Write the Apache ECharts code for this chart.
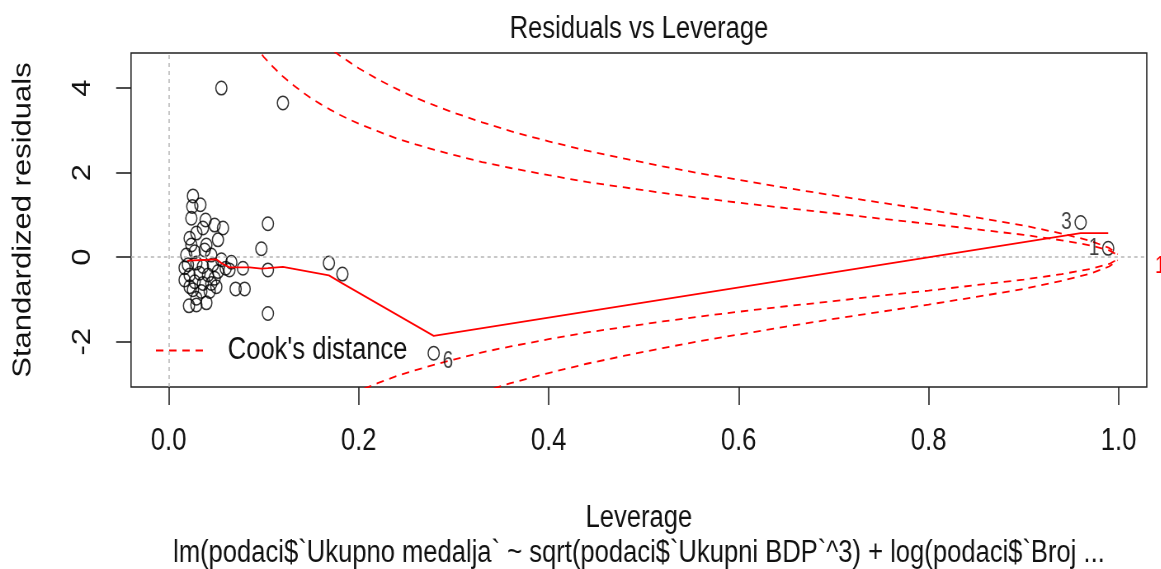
<!DOCTYPE html>
<html><head><meta charset="utf-8">
<script src="https://cdn.jsdelivr.net/npm/echarts@6/dist/echarts.min.js"></script>
<style>
html,body{margin:0;padding:0;overflow:hidden;background:#fff;width:1161px;height:569px}
#wrap{width:1161px;height:569px;overflow:hidden;position:relative}
#main{width:1407px;height:569px;transform:scaleX(0.825);transform-origin:0 0;position:absolute;left:0;top:0}
</style></head><body>
<div id="wrap"><div id="main"></div></div>
<script>
// ---- data ----
const titleText = 'Residuals vs Leverage';
const subCaption = 'lm(podaci$`Ukupno medalja` ~ sqrt(podaci$`Ukupni BDP`^3) + log(podaci$`Broj ...';
const xName = 'Leverage';
const yName = 'Standardized residuals';
const xTicks = [0, 0.2, 0.4, 0.6, 0.8, 1.0];
const yTicks = [-2, 0, 2, 4];
const cookLevelTicks = [-0.225];
const cookLevelLabels = ['1'];

const pointH = [0.0555, 0.1203, 0.960, 0.989, 0.279, 0.1687, 0.1829, 0.1045, 0.0976, 0.1045, 0.1045, 0.0705, 0.080, 0.0782, 0.066,
  0.0256, 0.0334, 0.0249, 0.0239, 0.0389, 0.0484, 0.0572, 0.0361, 0.0292, 0.0221, 0.0397, 0.0519, 0.0239,
  0.0186, 0.0274, 0.0379, 0.0449, 0.0555, 0.0203, 0.0292, 0.0361, 0.0466, 0.0519, 0.0221, 0.0326, 0.0414, 0.0484, 0.0168,
  0.0274, 0.0361, 0.0449, 0.0256, 0.0344, 0.0432, 0.0502, 0.0221, 0.0292, 0.0397, 0.0214, 0.0292, 0.0168, 0.060, 0.064];
const pointR = [4.00, 3.65, 0.82, 0.21, -2.27, -0.14, -0.40, 0.79, 0.20, -0.30, -1.33, -0.75, -0.75, -0.26, -0.12,
  1.45, 1.24, 1.20, 0.92, 0.88, 0.76, 0.69, 0.69, 0.57, 0.45, 0.29, 0.41, 0.29,
  0.05, 0.13, 0.17, 0.05, -0.06, -0.18, -0.14, -0.22, -0.18, -0.34, -0.42, -0.38, -0.42, -0.50, -0.54,
  -0.58, -0.62, -0.62, -0.77, -0.81, -0.81, -0.70, -0.70, -0.97, -1.08, -1.15, -1.13, -0.25, -0.26, -0.30];
const idIndex = [3, 2, 4];
const idText = ['1', '3', '6'];

const smoothH = [0.0197, 0.0414, 0.0502, 0.0555, 0.0642, 0.0853, 0.0976, 0.1045, 0.1203, 0.1687, 0.1829, 0.279, 0.960, 0.989];
const smoothR = [-0.08, -0.06, -0.05, -0.14, -0.24, -0.24, -0.27, -0.26, -0.23, -0.43, -0.62, -1.86, 0.57, 0.57];

const cookH = [0.08,0.09,0.1,0.11,0.12,0.13,0.14,0.15,0.16,0.17,0.18,0.19,0.2,0.22,0.24,0.26,0.28,0.3,0.33,0.36,0.4,0.44,0.48,0.52,0.56,0.6,0.65,0.7,0.75,0.8,0.85,0.9,0.94,0.97,0.99,0.999];
const cookUp05 = [5.36,5.03,4.74,4.50,4.28,4.09,3.92,3.76,3.62,3.49,3.37,3.26,3.16,2.98,2.81,2.67,2.54,2.42,2.25,2.11,1.94,1.78,1.65,1.52,1.40,1.29,1.16,1.04,0.91,0.79,0.66,0.53,0.40,0.28,0.16,0.05];
const cookUp1 = [7.58,7.11,6.71,6.36,6.06,5.78,5.54,5.32,5.12,4.94,4.77,4.62,4.47,4.21,3.98,3.77,3.59,3.42,3.19,2.98,2.74,2.52,2.33,2.15,1.98,1.83,1.64,1.46,1.29,1.12,0.94,0.75,0.56,0.39,0.22,0.07];
const cookLow05 = [-5.36,-5.03,-4.74,-4.50,-4.28,-4.09,-3.92,-3.76,-3.62,-3.49,-3.37,-3.26,-3.16,-2.98,-2.81,-2.67,-2.54,-2.42,-2.25,-2.11,-1.94,-1.78,-1.65,-1.52,-1.40,-1.29,-1.16,-1.04,-0.91,-0.79,-0.66,-0.53,-0.40,-0.28,-0.16,-0.05];
const cookLow1 = [-7.58,-7.11,-6.71,-6.36,-6.06,-5.78,-5.54,-5.32,-5.12,-4.94,-4.77,-4.62,-4.47,-4.21,-3.98,-3.77,-3.59,-3.42,-3.19,-2.98,-2.74,-2.52,-2.33,-2.15,-1.98,-1.83,-1.64,-1.46,-1.29,-1.12,-0.94,-0.75,-0.56,-0.39,-0.22,-0.07];

// ---- chart ----
const FONT = '"Liberation Sans", Arial, sans-serif';
const TXT = '#111';
const RED = '#ff0000';
const chart = echarts.init(document.getElementById('main'), null, {renderer: 'canvas'});

const pts = pointH.map((h, i) => [h, pointR[i]]);
const smooth = smoothH.map((h, i) => [h, smoothR[i]]);
const curve = arr => cookH.map((h, i) => [h, arr[i]]);
const ids = idIndex.map((k, j) => {
  const right = pointH[k] < 0.5;
  return {
    value: [pointH[k], pointR[k]], name: idText[j],
    label: {position: right ? 'right' : 'left', offset: right ? [0, 8] : [0, 0]}
  };
});
const dash = [9, 7];
const cookSeries = [cookUp05, cookUp1, cookLow05, cookLow1].map(arr => ({
  type: 'line', name: "Cook's distance", data: curve(arr), symbol: 'none', clip: true,
  lineStyle: {color: RED, width: 1.8, type: dash}, itemStyle: {color: RED}, silent: true, z: 4
}));

chart.setOption({
  animation: false,
  backgroundColor: '#fff',
  title: [
    {text: titleText, left: 774.5, top: 14, textAlign: 'center', padding: 0,
     textStyle: {fontSize: 31, fontWeight: 'normal', color: TXT, fontFamily: FONT}},
    {text: subCaption, left: 774.5, top: 538, textAlign: 'center', padding: 0,
     textStyle: {fontSize: 31, fontWeight: 'normal', color: TXT, fontFamily: FONT}}
  ],
  legend: {
    data: ["Cook's distance"], left: 188, top: 335, padding: 0, selectedMode: false,
    itemWidth: 61, itemHeight: 14,
    itemStyle: {color: 'rgba(0,0,0,0)', borderColor: 'rgba(0,0,0,0)', borderWidth: 0},
    textStyle: {fontSize: 31, color: TXT, fontFamily: FONT, padding: [0, 0, 0, 21]}
  },
  grid: {left: 158.8, right: 17, top: 53, bottom: 182, show: true, borderColor: '#222', borderWidth: 1.6,
    backgroundColor: 'transparent', containLabel: false, outerBoundsMode: 'none'},
  xAxis: {
    type: 'value', min: -0.0396, max: 1.0296,
    name: xName, nameLocation: 'middle', nameGap: 116,
    nameTextStyle: {fontSize: 31, color: TXT, fontFamily: FONT},
    axisLine: {show: false, onZero: false}, splitLine: {show: false},
    axisTick: {show: true, length: 18, customValues: xTicks, lineStyle: {color: '#222', width: 1.6}},
    axisLabel: {customValues: xTicks, margin: 39, fontSize: 31, color: TXT, fontFamily: FONT,
      formatter: v => v.toFixed(1)}
  },
  yAxis: [{
    type: 'value', min: -3.07, max: 4.83,
    name: yName, nameLocation: 'middle', nameGap: 115, nameRotate: 90,
    nameTextStyle: {fontSize: 31, color: TXT, fontFamily: FONT},
    axisLine: {show: false, onZero: false}, splitLine: {show: false},
    axisTick: {show: true, length: 18, customValues: yTicks, lineStyle: {color: '#222', width: 1.6}},
    axisLabel: {customValues: yTicks, margin: 43, rotate: 90, fontSize: 31, color: TXT, fontFamily: FONT,
      formatter: v => String(v)}
  }, {
    type: 'value', min: -3.07, max: 4.83, position: 'right',
    axisLine: {show: false, onZero: false}, splitLine: {show: false}, axisTick: {show: false},
    axisLabel: {customValues: cookLevelTicks, margin: 10, fontSize: 23, color: RED, fontFamily: FONT,
      formatter: v => cookLevelLabels[cookLevelTicks.indexOf(v)] || ''}
  }],
  series: [
    {
      type: 'scatter', name: 'points', data: pts, symbol: 'circle', symbolSize: 13.5,
      itemStyle: {color: 'rgba(0,0,0,0)', borderColor: '#000', borderWidth: 1.5}, z: 3, silent: true,
      markLine: {
        silent: true, symbol: ['none', 'none'], label: {show: false},
        lineStyle: {color: '#b5b5b5', type: [4, 4], width: 1.5},
        data: [{xAxis: 0}, {yAxis: 0}]
      }
    },
    {
      type: 'line', name: 'smooth', data: smooth, symbol: 'none',
      lineStyle: {color: RED, width: 1.8}, itemStyle: {color: RED}, z: 5, silent: true
    },
    ...cookSeries,
    {
      type: 'scatter', name: 'ids', data: ids, symbolSize: 13.5,
      itemStyle: {color: 'rgba(0,0,0,0)', borderWidth: 0}, z: 6, silent: true,
      label: {show: true, formatter: '{b}', distance: 4, fontSize: 23, color: TXT, fontFamily: FONT}
    }
  ]
});
</script>
</body></html>
